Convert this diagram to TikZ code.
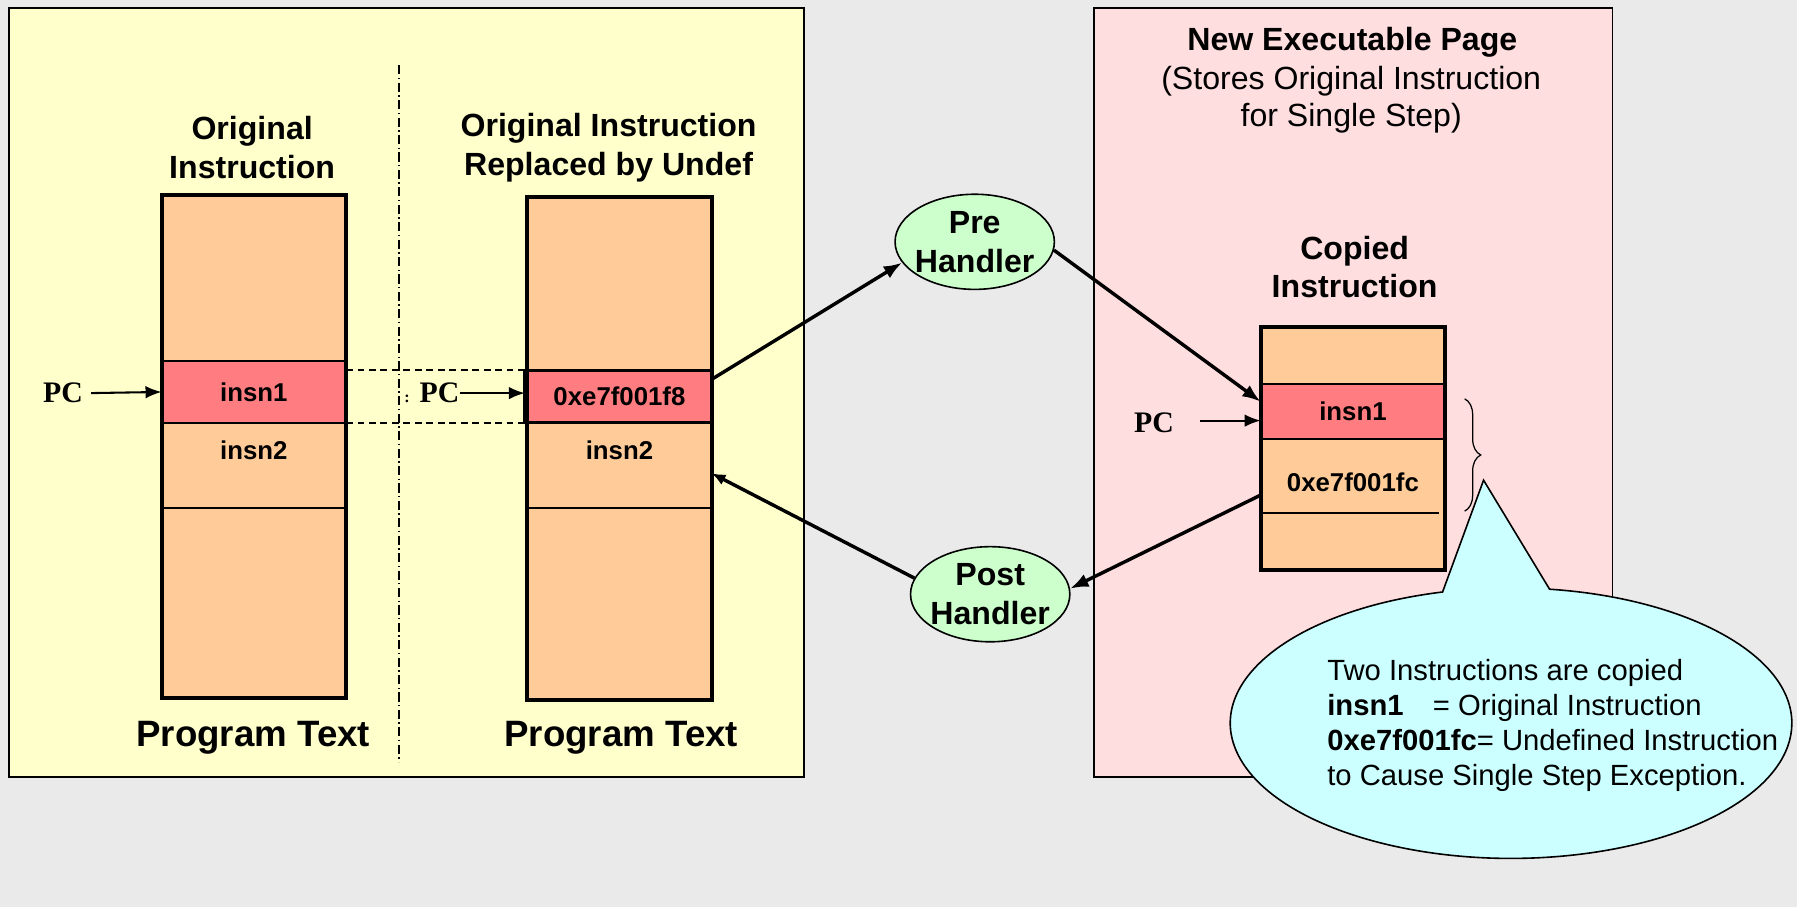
\documentclass[tikz,border=0pt]{standalone}
\usepackage{fontspec}
\setmainfont{Liberation Sans}
\newfontfamily\serifb{Liberation Serif}
\usetikzlibrary{shapes.geometric,shapes.callouts,arrows.meta,calc,decorations.pathreplacing}
\definecolor{bgc}{HTML}{EAEAEA}
\definecolor{yel}{HTML}{FFFFCC}
\definecolor{pnk}{HTML}{FFDEE0}
\definecolor{boxor}{HTML}{FFCC99}
\definecolor{boxred}{HTML}{FF7C80}
\definecolor{grn}{HTML}{CCFFCC}
\definecolor{cyn}{HTML}{CCFFFF}
\newcommand\myfs[2]{\fontsize{#1}{#2}\selectfont}
\begin{document}
\begin{tikzpicture}[x=1pt,y=-1pt,
  panel/.style={draw, line width=1.4pt, inner sep=0pt, outer sep=0pt, anchor=north west},
  hd/.style={font=\myfs{28}{34}\bfseries, align=center, inner sep=0pt},
  rg/.style={font=\myfs{28}{33}, align=center, inner sep=0pt},
  ptx/.style={font=\myfs{32}{38}\bfseries, inner sep=0pt},
  bx/.style={font=\myfs{22.5}{27}\bfseries, inner sep=0pt},
  sec/.style={fill=boxor, minimum width=161pt, inner sep=0pt, outer sep=0pt, anchor=north, font=\myfs{22.5}{27}\bfseries},
  pcs/.style={font=\serifb\myfs{26}{30}\bfseries, inner sep=0pt},
  hnd/.style={ellipse, draw, fill=grn, line width=1.4pt, minimum width=139pt, minimum height=83pt, inner xsep=-6pt, inner ysep=-8pt, align=center, font=\myfs{28}{34}\bfseries},
  arr/.style={line width=3pt, -{Latex[length=16pt,width=12pt]}},
  arrs/.style={line width=3pt, -{Latex[length=12pt,width=10pt]}},
  pcarr/.style={line width=1.8pt, -{Latex[length=14pt,width=11pt]}},
  inner/.style={line width=1.8pt},
  outer/.style={line width=3.5pt},
  dsh/.style={line width=1.4pt, dash pattern=on 6pt off 4pt},
  dd/.style={line width=1.2pt, dash pattern=on 8pt off 3pt on 1.2pt off 3pt}
]
\fill[bgc] (0,0) rectangle (1568,791);
\useasboundingbox (0,0) rectangle (1568,791);

% panels
\node[panel, fill=yel, minimum width=693.5pt, minimum height=671pt] (lpanel) at (8,7) {};
\node[panel, fill=pnk, minimum width=452.5pt, minimum height=671pt] (rpanel) at (954.5,7) {};

% separator
\coordinate (sepT) at (348,57);
\coordinate (sepB) at (348,665);
\draw[dd] (sepT) -- (sepB);

% headings
\node[hd] (h1) at (220,128.5) {Original\\Instruction};
\node[hd] (h2) at (531,128.5) {Original Instruction\\Replaced by Undef};
\node[ptx] (p1) at (221,644) {Program Text};
\node[ptx] (p2) at (542,644) {Program Text};

% left box
\node[sec, minimum height=145pt] (lt) at (221.5,170) {};
\node[sec, fill=boxred, minimum height=54pt] (lred) at (lt.south) {insn1};
\node[sec, minimum height=74pt] (l2) at (lred.south) {};
\node[sec, minimum height=166pt] (lb) at (l2.south) {};
\node[bx] (l2t) at ($(l2.north)+(0,24)$) {insn2};
\draw[inner] (lt.south west) -- (lt.south east);
\draw[inner] (lred.south west) -- (lred.south east);
\draw[inner] (l2.south west) -- (l2.south east);
\draw[outer] (lt.north west) rectangle (lb.south east);

% middle box
\node[sec, minimum height=151pt] (mt) at (540.5,172) {};
\node[sec, fill=boxred, minimum height=46pt] (mred) at (mt.south) {0xe7f001f8};
\node[sec, minimum height=74pt] (m2) at (mred.south) {};
\node[sec, minimum height=168pt] (mb) at (m2.south) {};
\node[bx] (m2t) at ($(m2.north)+(0,24)$) {insn2};
\draw[inner] (m2.south west) -- (m2.south east);
\draw[outer] (mt.north west) rectangle (mb.south east);
\draw[line width=2.6pt] ([xshift=-2pt]mred.north west) rectangle (mred.south east);

% dashed guide lines
\draw[dsh] (lred.east |- mred.north) -- ([xshift=-2pt]mred.north west);
\draw[dsh] (lred.south east) -- ([xshift=-2pt]mred.south west);

% PC labels
\node[pcs] (lpc) at (55,343) {PC};
\draw[pcarr] ([xshift=7pt]lpc.east) -- (lred.west);
\node[pcs, anchor=east] (mpc) at (401,343) {{\myfs{14}{14}\selectfont :}\,\,PC};
\draw[pcarr] (mpc.east) -- ([yshift=3pt,xshift=-2pt]mred.west);

% right page
\node[hd] (nt) at (1180,37) {New Executable Page};
\node[rg] (ns) at (1179,87) {(Stores Original Instruction\\for Single Step)};
\node[hd] (ci) at (1182,233) {Copied\\Instruction};

\node[sec, minimum height=50pt] (ct) at (1180.5,285) {};
\node[sec, fill=boxred, minimum height=48pt] (cred) at (ct.south) {insn1};
\node[sec, minimum height=65pt] (cm) at (cred.south) {};
\node[sec, minimum height=49pt] (cb) at (cm.south) {};
\node[bx] (cmt) at ($(cm.center)+(0,5)$) {0xe7f001fc};
\draw[inner] (ct.south west) -- (ct.south east);
\draw[inner] (cred.south west) -- (cred.south east);
\draw[inner] (cm.south west) -- ([xshift=-5pt]cm.south east);
\draw[outer] (ct.north west) rectangle (cb.south east);

\node[pcs] (cpc) at (1007,369) {PC};
\coordinate (cpca) at (1047,367);
\draw[pcarr] (cpca) -- ([yshift=-8pt]cred.west);

% brace
\coordinate (brT) at (1278,348);
\coordinate (brB) at (1278,446);
\draw[line width=1.1pt, decorate, decoration={brace, amplitude=14pt}] (brT) -- (brB);

% handlers
\node[hnd] (pre) at (850.5,211) {Pre\\Handler};
\node[hnd] (post) at (864,518.5) {Post\\Handler};

% arrows
\draw[arr] ([yshift=15pt]mred.east) -- (pre.196);
\draw[arr] (pre.354) -- ([yshift=8.5pt]cred.west);
\draw[arr] ([yshift=-16.5pt]cm.west) -- (post.4);
\draw[arrs] (post.168) -- ([yshift=-7pt]m2.east);

% callout
\coordinate (tip) at (1294.5,419);
\node[ellipse callout, draw, fill=cyn, line width=1.4pt, minimum width=490pt, minimum height=236pt, inner sep=0pt, callout absolute pointer={(tip)}, callout pointer arc=22] (call) at (1318.5,631) {};
\node[anchor=west, align=left, inner sep=0pt, font=\myfs{25.5}{30.7}] (ctxt) at (1158,633)
  {Two Instructions are copied\\
   \textbf{insn1}\quad= Original Instruction\\
   \textbf{0xe7f001fc}= Undefined Instruction\\
   to Cause Single Step Exception.};
\end{tikzpicture}
\end{document}
